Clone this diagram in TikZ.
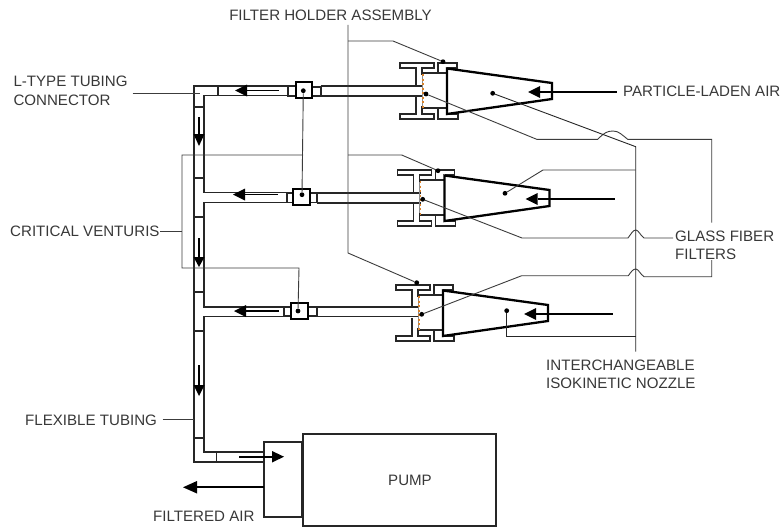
\documentclass[tikz,border=0pt]{standalone}
\usepackage{fontspec}
\setmainfont{Liberation Sans}
\usetikzlibrary{arrows.meta}
\definecolor{leadc}{HTML}{3C3C3C}
\definecolor{filterc}{HTML}{D9822B}
\tikzset{
  lab/.style={inner sep=0pt,anchor=base west,text=black!78,font=\fontsize{15.1}{17}\selectfont},
  leader/.style={draw=leadc,line width=0.9pt},
  tube/.style={draw=black!85,line width=1.6pt,line cap=butt,line join=miter},
  heavy/.style={draw=black,line width=2.3pt,line join=miter},
  hold/.style={draw=black!85,line width=1.6pt,line join=miter},
  dotn/.style={circle,fill=black,inner sep=0pt,minimum size=4.8pt},
  head/.style={fill=black,draw=none},
  shaft/.style={draw=black,line width=1.6pt},
  filt/.style={draw=filterc,line width=1.4pt,dash pattern=on 2pt off 2.5pt}
}
\newcommand{\holder}[3]{%
  \begin{scope}[shift={(#1,#2)}]
    \draw[hold] (416,85.7) -- (416,68) -- (400,68) -- (400,63) -- (434,63) -- (434,68) -- (422,68) -- (422,75);
    \draw[hold] (416,96) -- (416,114) -- (400,114) -- (400,119) -- (434,119) -- (434,114) -- (422,114) -- (422,106);
    \draw[hold] (438,73) -- (438,63) -- (457,63) -- (457,68) -- (447,68);
    \draw[hold] (438,108) -- (438,119) -- (458,119) -- (458,114) -- (447,114);
    \draw[hold] (422,73) -- (447,73);
    \draw[hold] (422,108) -- (447,108);
    \draw[draw=black!45,line width=0.7pt] (422,75) -- (422,106);
    \draw[filt] (423,74) -- (423,108);
    \draw[heavy] (447,68.5) -- (552,83) -- (552,99) -- (447,114) -- cycle;
    \path[head] (528,92) -- (540,86) -- (540,98) -- cycle;
    \draw[heavy] (540,92) -- (#3,92);
  \end{scope}
}
\begin{document}
\begin{tikzpicture}[x=1pt,y=-1pt]
\useasboundingbox (0,0) rectangle (781,527);
\fill[white] (0,0) rectangle (781,527);

% ---- manifold
\draw[tube] (288,86) -- (194,86) -- (194,461.7) -- (264,461.7);
\draw[tube] (288,95.5) -- (204,95.5) -- (204,192.5) -- (287,192.5);
\draw[tube] (287,202.5) -- (204,202.5) -- (204,306.7) -- (284,306.7);
\draw[tube] (284,316.5) -- (204,316.5) -- (204,451.7) -- (264,451.7);
\foreach \yy in {107,178,217,292,331,438} \draw[tube,line width=1.2pt] (194,\yy) -- (204,\yy);
\draw[tube,line width=1.2pt] (218,86) -- (218,95.5);
\draw[tube,line width=1.2pt] (216.7,451.7) -- (216.7,461.7);

% flow arrows in manifold
\foreach \ya/\yb/\yc in {117/134/146,238/257/267,365/385/396}{
  \draw[shaft] (199,\ya) -- (199,\yb);
  \path[head] (193.5,\yb) -- (204.5,\yb) -- (199,\yc) -- cycle;
}
\foreach \xb/\yy/\xe in {247/90.5/279,245/194.5/278,246/311/279}{
  \draw[shaft] (\xe,\yy) -- (\xb,\yy);
  \path[head] (\xb,\yy-6) -- (\xb,\yy+6) -- (\xb-12,\yy) -- cycle;
}

% ---- connectors and outlet tubes
\draw[tube] (320.7,86) -- (423,86);
\draw[tube] (320.7,96) -- (423,96);
\draw[tube] (317,193) -- (420.5,193);
\draw[tube] (317,202.7) -- (420.5,202.7);
\draw[tube] (316.7,306.7) -- (419,306.7);
\draw[tube] (316.7,316.5) -- (419,316.5);
\draw[tube,fill=white] (288,86) rectangle (295.7,96);
\draw[tube,fill=white] (312,87) rectangle (320.7,96);
\draw[heavy,fill=white] (295.7,82) rectangle (312,98.3);
\draw[tube,fill=white] (287,193) rectangle (293,202.5);
\draw[tube,fill=white] (310,193) rectangle (317,202.5);
\draw[heavy,fill=white] (293,189) rectangle (310,205);
\draw[tube,fill=white] (284,307) rectangle (291,316);
\draw[tube,fill=white] (308,307) rectangle (316.7,316);
\draw[heavy,fill=white] (291,302.7) rectangle (308,319);

% ---- holders and nozzles
\holder{0}{0}{617}
\holder{-2.5}{107}{617.5}
\holder{-4}{222}{617}

% ---- pump
\draw[line width=2.1pt,draw=black!85] (264,441.7) rectangle (302.3,516.7);
\node[draw=black!85,line width=2.1pt,inner sep=0pt,minimum width=193pt,minimum height=91.7pt,anchor=north west] (pump) at (302.3,433.3) {};
\node[lab,anchor=center] (pumplab) at (410,480) {PUMP};
\coordinate (inlet) at (239,456.7);
\draw[shaft] (inlet) -- (272,456.7);
\path[head] (272,451) -- (272,462.5) -- (284,456.7) -- cycle;
\coordinate (exhaust) at (264,487.3);
\coordinate (exhtip) at (197,487.3);
\draw[heavy] (exhaust) -- (exhtip);
\path[head] (197,481) -- (197,493.5) -- (183,487.3) -- cycle;

% ---- dots
\node[dotn] (va) at (303.3,90.7) {};
\node[dotn] (vb) at (302,194.7) {};
\node[dotn] (vc) at (298,311) {};
\node[dotn] (ha) at (443,61.7) {};
\node[dotn] (hb) at (438,170.7) {};
\node[dotn] (hc) at (416.7,282.7) {};
\node[dotn] (fa) at (426,94) {};
\node[dotn] (fb) at (422.7,199.3) {};
\node[dotn] (fc) at (421.7,314.3) {};
\node[dotn] (na) at (492.7,93.3) {};
\node[dotn] (nb) at (505,193.3) {};
\node[dotn] (nc) at (506.7,310.7) {};

% ---- labels
\node[lab,anchor=base] (holderlab) at (330.5,21) {FILTER HOLDER ASSEMBLY};
\node[lab] (ltype) at (13.3,86.5) {L-TYPE TUBING};
\node[lab] (ltypeb) at (13.3,105) {CONNECTOR};
\node[lab] (partic) at (623,96.5) {PARTICLE-LADEN AIR};
\node[lab] (crit) at (10,236.5) {CRITICAL VENTURIS};
\node[lab] (glass) at (675,241.5) {GLASS FIBER};
\node[lab] (glassb) at (675,259.5) {FILTERS};
\node[lab] (inter) at (546,370) {INTERCHANGEABLE};
\node[lab] (iso) at (546,388) {ISOKINETIC NOZZLE};
\node[lab] (flex) at (25,425.5) {FLEXIBLE TUBING};
\node[lab] (filtered) at (153,521.5) {FILTERED AIR};

% ---- leaders
\coordinate (hbus) at (348,25);
\coordinate (hend) at (348,253);
\draw[leader] (hbus) -- (hend) -- (hc);
\draw[leader] (348,41) -- (393,41) -- (ha);
\draw[leader] (348,155) -- (401.7,155) -- (hb);

\draw[leader] (va) -- (vb);
\coordinate (cv) at (182,231);
\draw[leader] (160,231) -- (cv);
\draw[leader] (303,155) -- (182,155) -- (182,268) -- (299,268) -- (vc);

\draw[leader] (132.7,93.5) -- (200,93.5);
\draw[leader] (162.7,419.3) -- (194,419.3);

\draw[leader] (fa) -- (536.7,139.3) -- (597.7,139.3) .. controls (604,133) and (607,131) .. (613,131)
  .. controls (619,131) and (622,135) .. (627.7,139.3) -- (711.7,139.3) -- (711.7,222.7);
\draw[leader] (fb) -- (522,238) -- (628,238) .. controls (631,234) and (633,230) .. (635.7,230)
  .. controls (638.5,230) and (640,235) .. (644,238) -- (673,238);
\draw[leader] (fc) -- (521.7,275.7) -- (628.3,275.7) .. controls (631,272) and (633,269) .. (635.7,269)
  .. controls (638.5,269) and (640,274) .. (644,276.7) -- (711.7,276.7) -- (711.7,260);

\draw[leader,draw=black!85] (na) -- (635.7,146.7) -- (635.7,351.7);
\draw[leader] (nb) -- (543,170) -- (635.7,170);
\draw[leader,draw=black!85] (nc) -- (506.7,336) -- (635.7,336);
\end{tikzpicture}
\end{document}
